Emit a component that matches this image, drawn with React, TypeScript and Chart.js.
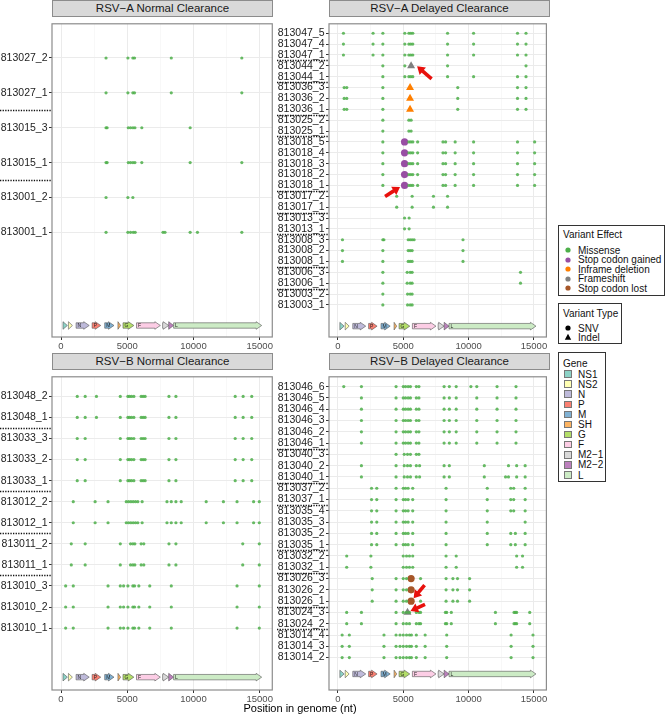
import React, { useEffect, useRef } from 'react';
import { Chart, registerables } from 'chart.js';

Chart.register(...registerables);

const FONT = '"Liberation Sans", Arial, Helvetica, sans-serif';

// ---------- x axis ----------
const X_MIN = -680;
const X_MAX = 15950;
const xTickValues = [0, 2500, 5000, 7500, 10000, 12500, 15000];
const xMajorStep = 5000;
const xTitle = 'Position in genome (nt)';

// ---------- genes ----------
const geneNames = ['NS1', 'NS2', 'N', 'P', 'M', 'SH', 'G', 'F', 'M2−1', 'M2−2', 'L'];
const geneStarts = [150, 560, 1140, 2350, 3300, 4300, 4680, 5700, 7670, 8130, 8500];
const geneEnds = [480, 860, 2130, 3000, 4000, 4500, 5500, 7500, 8130, 8500, 15150];
const geneTags = ['', '', 'N', 'P', 'M', '', 'G', 'F', '', '', 'L'];
const geneColors = ['#8dd3c7', '#ffffb3', '#bebada', '#fb8072', '#80b1d3', '#fdb462', '#b3de69', '#fccde5', '#d9d9d9', '#bc80bd', '#ccebc5'];

// ---------- variant effects ----------
const effectNames = ['Missense', 'Stop codon gained', 'Inframe deletion', 'Frameshift', 'Stop codon lost'];
const effectColors = ['#4daf4a', '#984ea3', '#ff7f00', '#808080', '#a65628'];
const typeNames = ['SNV', 'Indel'];

// ---------- panel titles ----------
const panelTitles = ['RSV−A Normal Clearance', 'RSV−A Delayed Clearance', 'RSV−B Normal Clearance', 'RSV−B Delayed Clearance'];

// ---------- RSV-A Normal ----------
const aNormalRows = ['813027_2', '813027_1', '813015_3', '813015_1', '813001_2', '813001_1'];
const aNormalMissense = [
  [3400, 5050, 5425, 5550, 8325, 13650],
  [3400, 5050, 5425, 5550, 8325, 13650],
  [3400, 3480, 5080, 5250, 5430, 5580, 6100, 9750],
  [3400, 3480, 5080, 5250, 5430, 5580, 6100, 9750, 13650],
  [3400, 5050, 5425],
  [3400, 5050, 5250, 5450, 5600, 7700, 7850, 9750, 10300, 13650],
];

// ---------- RSV-A Delayed ----------
const aDelayedRows = ['813047_5', '813047_4', '813047_1', '813044_2', '813044_1', '813036_3', '813036_2', '813036_1', '813025_2', '813025_1', '813018_5', '813018_4', '813018_3', '813018_2', '813018_1', '813017_2', '813017_1', '813013_3', '813013_1', '813008_3', '813008_2', '813008_1', '813006_3', '813006_1', '813003_2', '813003_1'];
const aDelayedMissense = [
  [425, 2690, 3440, 5120, 5430, 5580, 5730, 8390, 10380, 13740, 14390],
  [425, 2690, 3440, 5120, 5430, 5580, 5730, 8390, 10380, 13740, 14390],
  [425, 2690, 3440, 5120, 5430, 5580, 5730, 8390, 10380, 13740, 14390],
  [3440, 5120, 8390, 14390],
  [3440, 5120, 5430, 5580, 5730, 8390, 10380, 13740, 14390],
  [480, 680, 3440, 9170, 13740, 14390],
  [480, 680, 3440, 9170, 13740, 14390],
  [480, 680, 3440, 9170, 13740, 14390],
  [3440, 5430, 5600],
  [3440, 5430, 5600],
  [3440, 5430, 5580, 5730, 6100, 8040, 8240, 8970, 10380, 13740, 15050],
  [3440, 5430, 5580, 5730, 6100, 8040, 8240, 8970, 10380, 13740, 15050],
  [3440, 5430, 5580, 5730, 6100, 8040, 8240, 8970, 10380, 13740, 15050],
  [3440, 5430, 5580, 5730, 6100, 8040, 8240, 8970, 10380, 13740, 15050],
  [3440, 5430, 5580, 5730, 6100, 8040, 8240, 8970, 10380, 13740, 15050],
  [4500, 5680, 7310, 8390],
  [4500, 5680, 7310, 8390],
  [5100, 5450],
  [5100, 5450],
  [350, 3440, 3520, 5380, 5530, 5680, 5830, 9570],
  [350, 3440, 5380, 5530, 5680, 9570],
  [350, 3440, 5380, 5530, 5680, 9570],
  [3440, 5300, 5530, 5680, 13970],
  [3440, 5300, 5530, 5680, 13970],
  [3440, 5330, 5530, 5680],
  [3440, 5330, 5530, 5680],
];
const aDelayedSpecialRows = ['813044_2', '813036_3', '813036_2', '813036_1', '813018_5', '813018_4', '813018_3', '813018_2', '813018_1'];
const aDelayedSpecialPos = [5600, 5520, 5520, 5520, 5100, 5100, 5100, 5100, 5100];
const aDelayedSpecialEffect = [3, 2, 2, 2, 1, 1, 1, 1, 1];
const aDelayedSpecialType = [1, 1, 1, 1, 0, 0, 0, 0, 0];
const aDelayedArrowRows = ['813044_2', '813018_1'];
const aDelayedArrowPos = [5600, 5100];

// ---------- RSV-B Normal ----------
const bNormalRows = ['813048_2', '813048_1', '813033_3', '813033_2', '813033_1', '813012_2', '813012_1', '813011_2', '813011_1', '813010_3', '813010_2', '813010_1'];
const bNormalMissense = [
  [1225, 1825, 2675, 4475, 5050, 5175, 5325, 5500, 6050, 6200, 6350, 8150, 8675, 13150, 13750, 14400],
  [1225, 1825, 2675, 4475, 5050, 5175, 5325, 5500, 6050, 6200, 6350, 8150, 8675, 13150, 13750, 14400],
  [1225, 1825, 4475, 5050, 5175, 5325, 5500, 6050, 6200, 6350, 8150, 8675, 13150, 13750, 14400],
  [1225, 1825, 4475, 5050, 5175, 5325, 5500, 6050, 6200, 6350, 8150, 8675, 13150, 13750, 14400],
  [1225, 1825, 4475, 5050, 5175, 5325, 5500, 6050, 6200, 6350, 8150, 8675, 13150, 13750, 14400],
  [925, 2575, 3550, 4925, 5100, 5275, 5450, 5625, 5800, 6125, 8000, 8325, 8675, 9075, 10960, 12260, 13290, 14540, 14970],
  [925, 2575, 3550, 4925, 5100, 5275, 5450, 5625, 5800, 6125, 8000, 8325, 8675, 9075, 10960, 12260, 13290, 14540, 14970],
  [775, 1825, 4475, 5250, 5425, 5575, 6050, 6250, 8150, 8675, 13720, 14970],
  [775, 1825, 4475, 5250, 5425, 5575, 6050, 6250, 8150, 8675, 13720, 14970],
  [350, 925, 3550, 4475, 4725, 5050, 5425, 5550, 5875, 6700, 8325, 13290, 14970],
  [350, 925, 3550, 4475, 4725, 5050, 5425, 5550, 5875, 6700, 8325, 13290, 14970],
  [350, 925, 3550, 4475, 4725, 5050, 5425, 5550, 5875, 6700, 8325, 13290, 14970],
];

// ---------- RSV-B Delayed ----------
const bDelayedRows = ['813046_6', '813046_5', '813046_4', '813046_3', '813046_2', '813046_1', '813040_3', '813040_2', '813040_1', '813037_2', '813037_1', '813035_4', '813035_3', '813035_2', '813035_1', '813032_2', '813032_1', '813026_3', '813026_2', '813026_1', '813024_3', '813024_2', '813014_4', '813014_3', '813014_2'];
const bDelayedMissense = [
  [450, 1800, 4450, 5000, 5175, 5375, 5550, 6000, 6200, 8125, 8525, 9050, 10175, 10625, 12175, 13625],
  [1800, 4450, 5000, 5175, 5375, 5550, 6000, 6200, 8125, 8525, 9050, 10625, 12175, 13625],
  [1800, 4450, 5000, 5175, 5375, 5550, 6000, 6200, 8125, 8525, 9050, 10625, 12175, 13625],
  [1800, 4450, 5000, 5175, 5375, 5550, 6000, 6200, 8125, 8525, 9050, 10625, 12175, 13625],
  [1800, 4450, 5000, 5175, 5375, 5550, 6000, 6200, 8125, 8525, 9050, 10625, 12175, 13625],
  [1800, 4450, 5000, 5175, 5375, 5550, 6000, 6200, 8125, 8525, 9050, 10625, 12175, 13625],
  [4450, 5075, 5325, 5550, 6000, 6200],
  [1800, 4450, 5075, 5325, 5550, 6000, 6250, 8125, 8525, 11200, 13050, 13675, 14325],
  [1800, 4450, 5075, 5325, 5550, 6000, 6250, 8125, 8525, 11200, 12825, 13050, 13675, 14325],
  [2575, 2975, 4450, 5000, 5175, 5375, 5725, 8275, 11425, 13225, 13450, 14325],
  [2575, 2975, 4450, 5000, 5175, 5375, 5725, 8275, 11425, 13225, 13450, 14325],
  [2575, 2975, 4450, 5000, 5175, 5375, 5725, 8275, 11425, 13225, 13450, 14325],
  [2575, 2975, 4450, 5000, 5175, 5375, 5725, 8275, 11425, 14325],
  [2575, 2975, 4450, 5000, 5175, 5375, 5725, 8275, 11425, 13225, 13575, 14325],
  [2575, 2975, 4450, 5000, 5175, 5375, 5725, 8275, 11425, 13225, 13575, 14325],
  [675, 2525, 5000, 5250, 5475, 5725, 8275, 9050, 13675, 14125],
  [675, 2525, 5000, 5250, 5475, 5725, 8275, 9050, 13675, 14125],
  [2625, 4450, 5000, 5250, 6325, 8275, 8800, 9150, 10075],
  [2625, 4450, 5000, 5250, 6325, 8275, 8800, 9150, 10075],
  [2625, 4450, 5000, 5250, 6325, 8275, 8800, 9150, 10075],
  [675, 1800, 4450, 5000, 5250, 5475, 6000, 6200, 6325, 8225, 8325, 8675, 12050, 13475, 13575, 13675, 14675],
  [675, 1800, 4450, 5000, 5250, 5475, 6000, 6200, 6325, 8225, 8325, 8675, 12050, 13475, 13575, 13675, 14675],
  [325, 875, 3525, 4450, 4750, 5000, 5250, 5475, 5625, 6000, 6675, 8325, 13250, 14925],
  [325, 875, 3525, 4450, 4750, 5000, 5250, 5475, 5625, 6000, 6675, 8325, 13250, 14925],
  [325, 875, 3525, 4450, 4750, 5000, 5250, 5475, 5625, 6000, 6675, 8325, 13250, 14925],
];
const bDelayedSpecialRows = ['813026_3', '813026_2', '813026_1', '813024_3'];
const bDelayedSpecialPos = [5600, 5600, 5600, 5325];
const bDelayedSpecialEffect = [4, 4, 4, 3];
const bDelayedSpecialType = [0, 0, 0, 1];
const bDelayedArrowRows = ['813026_1', '813024_3'];
const bDelayedArrowPos = [5600, 5325];

// ---------- layout / style (not data) ----------
const PLOT_W = 221;
const PLOT_H = 320;
const AXIS_W = 52;
const AXIS_H = 16;
const STRIP_H = 17;
const BORDER = '#8c8c8c';
const RED = '#e8100c';

type ArrowStyle = { tip: [number, number]; tail: [number, number] };

type PanelDef = {
  title: string;
  rows: string[];
  missense: number[][];
  specialRows: string[];
  specialPos: number[];
  specialEffect: number[];
  specialType: number[];
  arrowRows: string[];
  arrowPos: number[];
  arrowStyle: ArrowStyle[];
  plotLeft: number;
  stripTop: number;
  yMin: number;
  yMax: number;
  geneY: number;
};

const panels: PanelDef[] = [
  {
    title: panelTitles[0], rows: aNormalRows, missense: aNormalMissense,
    specialRows: [], specialPos: [], specialEffect: [], specialType: [],
    arrowRows: [], arrowPos: [], arrowStyle: [],
    plotLeft: 52, stripTop: 0, yMin: -3.0, yMax: 5.98, geneY: -2.67,
  },
  {
    title: panelTitles[1], rows: aDelayedRows, missense: aDelayedMissense,
    specialRows: aDelayedSpecialRows, specialPos: aDelayedSpecialPos, specialEffect: aDelayedSpecialEffect, specialType: aDelayedSpecialType,
    arrowRows: aDelayedArrowRows, arrowPos: aDelayedArrowPos,
    arrowStyle: [{ tip: [6, 0.5], tail: [14.5, 12.5] }, { tip: [-4.5, 1.5], tail: [-15, 9.5] }],
    plotLeft: 329, stripTop: 0, yMin: -2.95, yMax: 25.87, geneY: -1.95,
  },
  {
    title: panelTitles[2], rows: bNormalRows, missense: bNormalMissense,
    specialRows: [], specialPos: [], specialEffect: [], specialType: [],
    arrowRows: [], arrowPos: [], arrowStyle: [],
    plotLeft: 52, stripTop: 353, yMin: -2.94, yMax: 11.93, geneY: -2.33,
  },
  {
    title: panelTitles[3], rows: bDelayedRows, missense: bDelayedMissense,
    specialRows: bDelayedSpecialRows, specialPos: bDelayedSpecialPos, specialEffect: bDelayedSpecialEffect, specialType: bDelayedSpecialType,
    arrowRows: bDelayedArrowRows, arrowPos: bDelayedArrowPos,
    arrowStyle: [{ tip: [2.5, -3], tail: [11, -13] }, { tip: [3, -1.5], tail: [14.5, -6.5] }],
    plotLeft: 329, stripTop: 353, yMin: -2.87, yMax: 24.87, geneY: -1.45,
  },
];

function patient(label: string) {
  return label.split('_')[0];
}

function drawArrow(ctx: CanvasRenderingContext2D, tx: number, ty: number, sx: number, sy: number) {
  const ang = Math.atan2(ty - sy, tx - sx);
  const headLen = 7.5;
  const headW = 4.8;
  const bx = tx - Math.cos(ang) * headLen;
  const by = ty - Math.sin(ang) * headLen;
  ctx.save();
  ctx.strokeStyle = RED;
  ctx.fillStyle = RED;
  ctx.lineWidth = 3.6;
  ctx.lineCap = 'butt';
  ctx.beginPath();
  ctx.moveTo(sx, sy);
  ctx.lineTo(bx + Math.cos(ang) * 0.5, by + Math.sin(ang) * 0.5);
  ctx.stroke();
  ctx.beginPath();
  ctx.moveTo(tx, ty);
  ctx.lineTo(bx + Math.sin(ang) * headW, by - Math.cos(ang) * headW);
  ctx.lineTo(bx - Math.sin(ang) * headW, by + Math.cos(ang) * headW);
  ctx.closePath();
  ctx.fill();
  ctx.restore();
}

function Panel({ def }: { def: PanelDef }) {
  const ref = useRef<HTMLCanvasElement>(null);
  const cw = AXIS_W + PLOT_W + 1;
  const ch = 1 + PLOT_H + AXIS_H;

  useEffect(() => {
    if (!ref.current) return;
    const n = def.rows.length;
    const rowY = (label: string) => n - 1 - def.rows.indexOf(label);

    const missData: { x: number; y: number }[] = [];
    def.missense.forEach((arr, i) => arr.forEach((x) => missData.push({ x, y: n - 1 - i })));

    const datasets: any[] = [
      {
        data: missData,
        pointStyle: 'circle',
        pointRadius: 1.6,
        pointHoverRadius: 1.6,
        pointBackgroundColor: 'rgba(77,175,74,0.85)',
        pointBorderWidth: 0,
      },
    ];
    def.specialRows.forEach((r, k) => {
      const indel = def.specialType[k] === 1;
      datasets.push({
        data: [{ x: def.specialPos[k], y: rowY(r) }],
        pointStyle: indel ? 'triangle' : 'circle',
        pointRadius: indel ? 4.6 : 3.6,
        pointHoverRadius: indel ? 4.6 : 3.6,
        pointBackgroundColor: effectColors[def.specialEffect[k]],
        pointBorderWidth: 0,
      });
    });

    const panelPlugin = {
      id: 'panelDecor',
      beforeDatasetsDraw(chart: any) {
        const { ctx, scales } = chart;
        const xs = scales.x;
        const ys = scales.y;
        const yc = ys.getPixelForValue(def.geneY);
        ctx.save();
        geneNames.forEach((_g, i) => {
          const x0 = xs.getPixelForValue(geneStarts[i]);
          const x1 = xs.getPixelForValue(geneEnds[i]);
          const w = x1 - x0;
          const head = Math.min(5.5, w);
          const bh = 2.7;
          const hh = 3.8;
          ctx.beginPath();
          if (w > head + 0.5) {
            ctx.moveTo(x0, yc - bh);
            ctx.lineTo(x1 - head, yc - bh);
            ctx.lineTo(x1 - head, yc - hh);
            ctx.lineTo(x1, yc);
            ctx.lineTo(x1 - head, yc + hh);
            ctx.lineTo(x1 - head, yc + bh);
            ctx.lineTo(x0, yc + bh);
          } else {
            ctx.moveTo(x0, yc - hh);
            ctx.lineTo(x1, yc);
            ctx.lineTo(x0, yc + hh);
          }
          ctx.closePath();
          ctx.fillStyle = geneColors[i];
          ctx.fill();
          ctx.strokeStyle = '#555';
          ctx.lineWidth = 0.6;
          ctx.stroke();
          if (geneTags[i]) {
            ctx.font = `5px ${FONT}`;
            ctx.fillStyle = '#222';
            ctx.textAlign = 'left';
            ctx.textBaseline = 'middle';
            ctx.fillText(geneTags[i], x0 + 1.5, yc + 0.3);
          }
        });
        ctx.restore();
      },
      afterDraw(chart: any) {
        const { ctx, chartArea, scales } = chart;
        const xs = scales.x;
        const ys = scales.y;
        ctx.save();
        ctx.strokeStyle = BORDER;
        ctx.lineWidth = 1.2;
        ctx.strokeRect(chartArea.left, chartArea.top, chartArea.right - chartArea.left, chartArea.bottom - chartArea.top);
        ctx.strokeStyle = '#111';
        ctx.lineWidth = 1.3;
        ctx.setLineDash([1.3, 1.3]);
        for (let i = 0; i < n - 1; i++) {
          if (patient(def.rows[i]) !== patient(def.rows[i + 1])) {
            const py = Math.round(ys.getPixelForValue(n - 1 - i - 0.5)) + 0.5;
            ctx.beginPath();
            ctx.moveTo(0, py);
            ctx.lineTo(chartArea.left, py);
            ctx.stroke();
          }
        }
        ctx.setLineDash([]);
        ctx.restore();
        def.arrowRows.forEach((r, k) => {
          const st = def.arrowStyle[k];
          const px = xs.getPixelForValue(def.arrowPos[k]);
          const py = ys.getPixelForValue(rowY(r));
          const tx = px + st.tip[0];
          const ty = py + st.tip[1];
          drawArrow(ctx, tx, ty, tx + st.tail[0], ty + st.tail[1]);
        });
      },
    };

    const chart = new Chart(ref.current, {
      type: 'scatter',
      data: { datasets },
      options: {
        animation: false,
        responsive: false,
        maintainAspectRatio: false,
        events: [],
        layout: { padding: { top: 1, right: 1, left: 0, bottom: 0 } },
        plugins: { legend: { display: false }, tooltip: { enabled: false }, title: { display: false } },
        scales: {
          x: {
            type: 'linear',
            min: X_MIN,
            max: X_MAX,
            afterBuildTicks: (s: any) => {
              s.ticks = xTickValues.map((v) => ({ value: v }));
            },
            afterFit: (s: any) => {
              s.height = AXIS_H;
            },
            border: { display: false },
            grid: {
              color: (c: any) => (c.tick && c.tick.value % xMajorStep === 0 ? '#ebebeb' : '#f4f4f4'),
              lineWidth: (c: any) => (c.tick && c.tick.value % xMajorStep === 0 ? 1 : 0.6),
              tickColor: (c: any) => (c.tick && c.tick.value % xMajorStep === 0 ? '#333' : 'rgba(0,0,0,0)'),
              tickLength: 3,
              drawTicks: true,
            },
            ticks: {
              autoSkip: false,
              maxRotation: 0,
              padding: 1,
              color: '#4d4d4d',
              font: { family: FONT, size: 9.5 },
              callback: (v: any) => (Number(v) % xMajorStep === 0 ? String(v) : ''),
            },
          },
          y: {
            type: 'linear',
            min: def.yMin,
            max: def.yMax,
            afterBuildTicks: (s: any) => {
              s.ticks = def.rows.map((_r, i) => ({ value: i }));
            },
            afterFit: (s: any) => {
              s.width = AXIS_W;
            },
            border: { display: false },
            grid: {
              color: '#ebebeb',
              lineWidth: 1,
              tickColor: '#333',
              tickLength: 3,
              drawTicks: true,
            },
            ticks: {
              autoSkip: false,
              padding: 1.5,
              color: '#222',
              font: { family: FONT, size: 10.5 },
              callback: (v: any) => def.rows[n - 1 - Math.round(Number(v))],
            },
          },
        },
      },
      plugins: [panelPlugin],
    });
    return () => chart.destroy();
  }, [def]);

  return (
    <>
      <div
        style={{
          position: 'absolute',
          left: def.plotLeft,
          top: def.stripTop,
          width: PLOT_W,
          height: STRIP_H,
          boxSizing: 'border-box',
          border: `1px solid ${BORDER}`,
          background: '#d9d9d9',
          fontSize: 11.5,
          lineHeight: '15px',
          textAlign: 'center',
          color: '#1a1a1a',
          whiteSpace: 'nowrap',
        }}
      >
        {def.title}
      </div>
      <canvas
        ref={ref}
        width={cw}
        height={ch}
        style={{ position: 'absolute', left: def.plotLeft - AXIS_W, top: def.stripTop + STRIP_H - 1, width: cw, height: ch }}
      />
    </>
  );
}

function Legend() {
  const box: React.CSSProperties = {
    position: 'absolute',
    boxSizing: 'border-box',
    border: '1px solid #333',
    background: '#fff',
  };
  const txt = (top: number, left: number, s: string) => (
    <div style={{ position: 'absolute', top: top - 5.5, left, fontSize: 10, lineHeight: '11px', whiteSpace: 'nowrap', color: '#111' }}>
      {s}
    </div>
  );
  return (
    <>
      <div style={{ ...box, left: 558, top: 225, width: 107, height: 71 }}>
        {txt(8, 4, 'Variant Effect')}
        {effectNames.map((e, k) => (
          <React.Fragment key={e}>
            <svg style={{ position: 'absolute', left: 5, top: 24 + k * 9.6 - 4 }} width={8} height={8}>
              <circle cx={4} cy={4} r={2.6} fill={effectColors[k]} />
            </svg>
            {txt(24 + k * 9.6, 19, e)}
          </React.Fragment>
        ))}
      </div>
      <div style={{ ...box, left: 558, top: 303, width: 64, height: 41 }}>
        {txt(9, 4, 'Variant Type')}
        {typeNames.map((t, k) => (
          <React.Fragment key={t}>
            <svg style={{ position: 'absolute', left: 5, top: 24 + k * 9.4 - 4 }} width={8} height={8}>
              {k === 0 ? <circle cx={4} cy={4} r={2.6} fill="#000" /> : <polygon points="4,0.8 7.2,6.8 0.8,6.8" fill="#000" />}
            </svg>
            {txt(24 + k * 9.4, 19, t)}
          </React.Fragment>
        ))}
      </div>
      <div style={{ ...box, left: 558, top: 352, width: 48, height: 130 }}>
        {txt(10, 4, 'Gene')}
        {geneNames.map((g, k) => (
          <React.Fragment key={g}>
            <div
              style={{
                position: 'absolute',
                left: 5,
                top: 21 + k * 10.1 - 3.8,
                width: 7.6,
                height: 7.6,
                boxSizing: 'border-box',
                border: '0.8px solid #777',
                background: geneColors[k],
              }}
            />
            {txt(21 + k * 10.1, 19, g)}
          </React.Fragment>
        ))}
      </div>
    </>
  );
}

export default function App() {
  return (
    <div
      style={{
        position: 'absolute',
        left: 0,
        top: 0,
        width: 666,
        height: 715,
        background: '#fff',
        overflow: 'hidden',
        fontFamily: FONT,
      }}
    >
      {panels.map((p, i) => (
        <Panel key={i} def={p} />
      ))}
      <Legend />
      <div
        style={{
          position: 'absolute',
          left: 150,
          width: 300,
          top: 702,
          textAlign: 'center',
          fontSize: 11,
          lineHeight: '12px',
          color: '#000',
        }}
      >
        {xTitle}
      </div>
    </div>
  );
}
